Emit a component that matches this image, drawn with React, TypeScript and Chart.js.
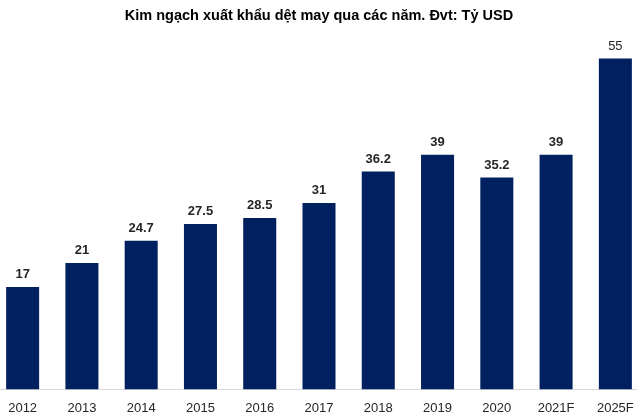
import React, { useEffect, useRef } from 'react';
import { Chart, registerables } from 'chart.js';

Chart.register(...registerables);

const years = ['2012', '2013', '2014', '2015', '2016', '2017', '2018', '2019', '2020', '2021F', '2025F'];
const exportValues = [17, 21, 24.7, 27.5, 28.5, 31, 36.2, 39, 35.2, 39, 55];
const valueLabels = ['17', '21', '24.7', '27.5', '28.5', '31', '36.2', '39', '35.2', '39', '55'];

const barLabels = {
    id: 'barLabels',
    afterDatasetsDraw(chart: any) {
        const ctx = chart.ctx;
        const meta = chart.getDatasetMeta(0);
        ctx.save();
        ctx.textAlign = 'center';
        ctx.textBaseline = 'bottom';
        ctx.fillStyle = '#262626';
        meta.data.forEach((bar: any, i: number) => {
            const last = i === meta.data.length - 1;
            ctx.font = (last ? '' : 'bold ') + '13px "Liberation Sans", Arial, sans-serif';
            ctx.fillText(valueLabels[i], bar.x, bar.y - 6);
        });
        ctx.restore();
    }
};

const BarChart = () => {
    const chartRef = useRef<HTMLCanvasElement>(null);

    useEffect(() => {
        if (!chartRef?.current) return;
        const ctx = chartRef.current.getContext('2d');
        if (!ctx) return;
        const myChart = new Chart(ctx, {
            type: 'bar',
            data: {
                labels: years,
                datasets: [{
                    data: exportValues,
                    backgroundColor: '#002060',
                    barPercentage: 0.557,
                    categoryPercentage: 1,
                }]
            },
            options: {
                animation: false,
                responsive: true,
                maintainAspectRatio: false,
                layout: { padding: { top: 0, bottom: 5, left: 0, right: 0 } },
                plugins: {
                    legend: { display: false },
                    tooltip: { enabled: false },
                    title: {
                        display: true,
                        text: 'Kim ngạch xuất khẩu dệt may qua các năm. Đvt: Tỷ USD',
                        color: '#000',
                        font: { family: '"Liberation Sans", Arial, sans-serif', size: 14.5, weight: 'bold' },
                        padding: { top: 7, bottom: 4 }
                    }
                },
                scales: {
                    x: {
                        grid: { display: false, drawTicks: false },
                        border: { display: true, color: '#d9d9d9', width: 1 },
                        ticks: {
                            color: '#262626',
                            padding: 11,
                            font: { family: '"Liberation Sans", Arial, sans-serif', size: 13 }
                        }
                    },
                    y: {
                        display: false,
                        min: 0,
                        max: 60
                    }
                }
            },
            plugins: [barLabels]
        });

        return () => {
            myChart.destroy();
        };
    }, []);

    return <canvas ref={chartRef} />;
};

export default function App() {
    useEffect(() => {
        document.body.style.margin = '0';
        document.body.style.overflow = 'hidden';
    }, []);
    return (
        <div style={{ position: 'absolute', left: -7, top: 0, width: 652, height: 432 }}>
            <BarChart />
        </div>
    );
}
